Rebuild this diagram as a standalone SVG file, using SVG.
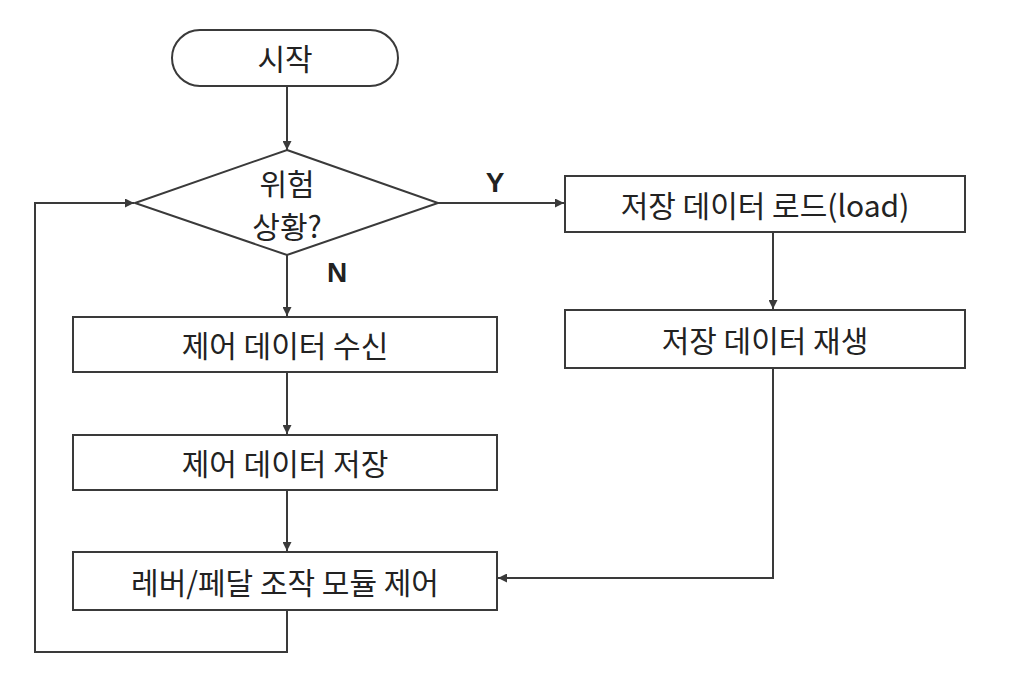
<svg xmlns="http://www.w3.org/2000/svg" width="1024" height="684" viewBox="0 0 1024 684">
<style>
.s{fill:#fff;stroke:#3a3a3a;stroke-width:2}
.t{font-family:"Noto Sans CJK KR","Liberation Sans",sans-serif;font-size:30px;fill:#222;text-anchor:middle;dominant-baseline:central}
.l{font-family:"Liberation Sans",sans-serif;font-size:28px;font-weight:bold;fill:#222;text-anchor:middle;dominant-baseline:central}
.c{fill:none;stroke:#3a3a3a;stroke-width:2;marker-end:url(#a)}
</style>
<defs><marker id="a" viewBox="0 0 10 10" refX="10" refY="5" markerWidth="9" markerHeight="9" markerUnits="userSpaceOnUse" orient="auto"><path d="M0,0L10,5L0,10z" fill="#3a3a3a"/></marker></defs>
<rect width="1024" height="684" fill="#fff"/>
<g id="start"><rect class="s" x="172" y="30" width="226" height="56" rx="28"/><text class="t" x="285" y="57">시작</text></g>
<g id="decision"><polygon class="s" points="287,150 438,203 287,255 135,203"/><text class="t" x="287" y="182">위험</text><text class="t" x="287" y="225">상황?</text></g>
<g id="load"><rect class="s" x="565" y="176" width="400" height="56"/><text class="t" x="765" y="204">저장 데이터 로드(load)</text></g>
<g id="play"><rect class="s" x="565" y="310" width="400" height="58"/><text class="t" x="765" y="339">저장 데이터 재생</text></g>
<g id="recv"><rect class="s" x="73" y="317" width="424" height="55"/><text class="t" x="285" y="344">제어 데이터 수신</text></g>
<g id="store"><rect class="s" x="73" y="435" width="424" height="55"/><text class="t" x="285" y="462">제어 데이터 저장</text></g>
<g id="ctrl"><rect class="s" x="73" y="552" width="424" height="58"/><text class="t" x="285" y="581">레버/페달 조작 모듈 제어</text></g>
<g id="connectors">
<path class="c" d="M287,86V150"/>
<path class="c" d="M438,203H564"/>
<path class="c" d="M773,232V309"/>
<path class="c" d="M773,368V578H498"/>
<path class="c" d="M287,255V316"/>
<path class="c" d="M287,372V434"/>
<path class="c" d="M287,490V551"/>
<path class="c" d="M287,610V652H35V203H134"/>
<text class="l" x="495" y="182">Y</text>
<text class="l" x="337" y="272">N</text>
</g>
</svg>
